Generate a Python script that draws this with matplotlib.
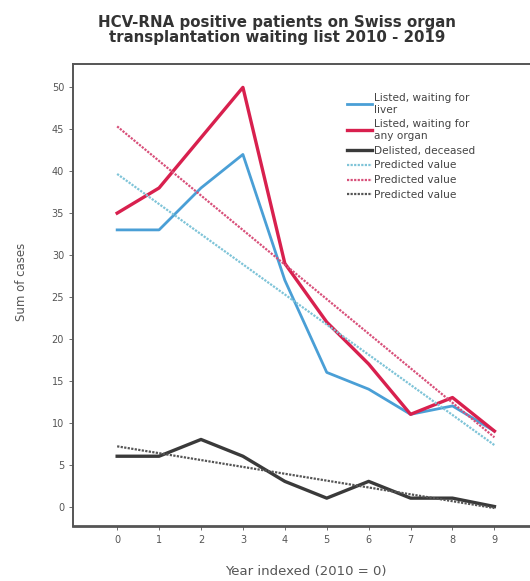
import numpy as np
import matplotlib
matplotlib.use("Agg")
import matplotlib.pyplot as plt

years = list(range(10))
liver = [33, 33, 38, 42, 27, 16, 14, 11, 12, 9]
any_organ = [35, 38, 44, 50, 29, 22, 17, 11, 13, 9]
deceased = [6, 6, 8, 6, 3, 1, 3, 1, 1, 0]
yticks = [0, 5, 10, 15, 20, 25, 30, 35, 40, 45, 50]

c_blue = "#4a9fd6"
c_red = "#d8204e"
c_black = "#3a3a3a"

fig = plt.figure(figsize=(5.30, 5.81), dpi=100)
ax = fig.add_axes([0.138, 0.095, 0.870, 0.795])

x = np.array(years)
ax.plot(x, liver, color=c_blue, lw=2.0, label="Listed, waiting for\nliver")
ax.plot(x, any_organ, color=c_red, lw=2.4, label="Listed, waiting for\nany organ")
ax.plot(x, deceased, color=c_black, lw=2.4, label="Delisted, deceased")

for series, col in [(liver, "#7fc4d8"), (any_organ, "#d8507a"), (deceased, "#555555")]:
    m, b = np.polyfit(x, series, 1)
    ax.plot(x, m * x + b, color=col, lw=1.6, ls=(0, (1, 0.6)), label="Predicted value")

ax.set_xlim(-1.05, 9.95)
ax.set_ylim(-2.3, 52.8)
ax.set_xticks(years)
ax.set_yticks(yticks)
ax.tick_params(labelsize=7, colors="#555555", length=3, width=0.6)
for s in ax.spines.values():
    s.set_color("#555555")
    s.set_linewidth(1.4)
ax.spines["bottom"].set_linewidth(2.0)
ax.spines["right"].set_visible(False)

fig.text(306 / 530, 1 - 572 / 581, "Year indexed (2010 = 0)", fontsize=9.5, color="#555555",
         ha="center", va="center")
fig.text(22 / 530, 1 - 282 / 581, "Sum of cases", fontsize=8.5, color="#555555",
         ha="center", va="center", rotation=90)

fig.text(277 / 530, 1 - 30 / 581, "HCV-RNA positive patients on Swiss organ\ntransplantation waiting list 2010 - 2019",
         ha="center", va="center", fontsize=10.8, fontweight="bold", color="#333333", linespacing=1.0)

leg = ax.legend(loc="upper left", bbox_to_anchor=(0.595, 0.937), frameon=False, fontsize=7.6,
                handlelength=2.3, handletextpad=0.25, labelspacing=0.45, labelcolor="#444444",
                borderaxespad=0, borderpad=0)

fig.savefig("out.png", dpi=100)
